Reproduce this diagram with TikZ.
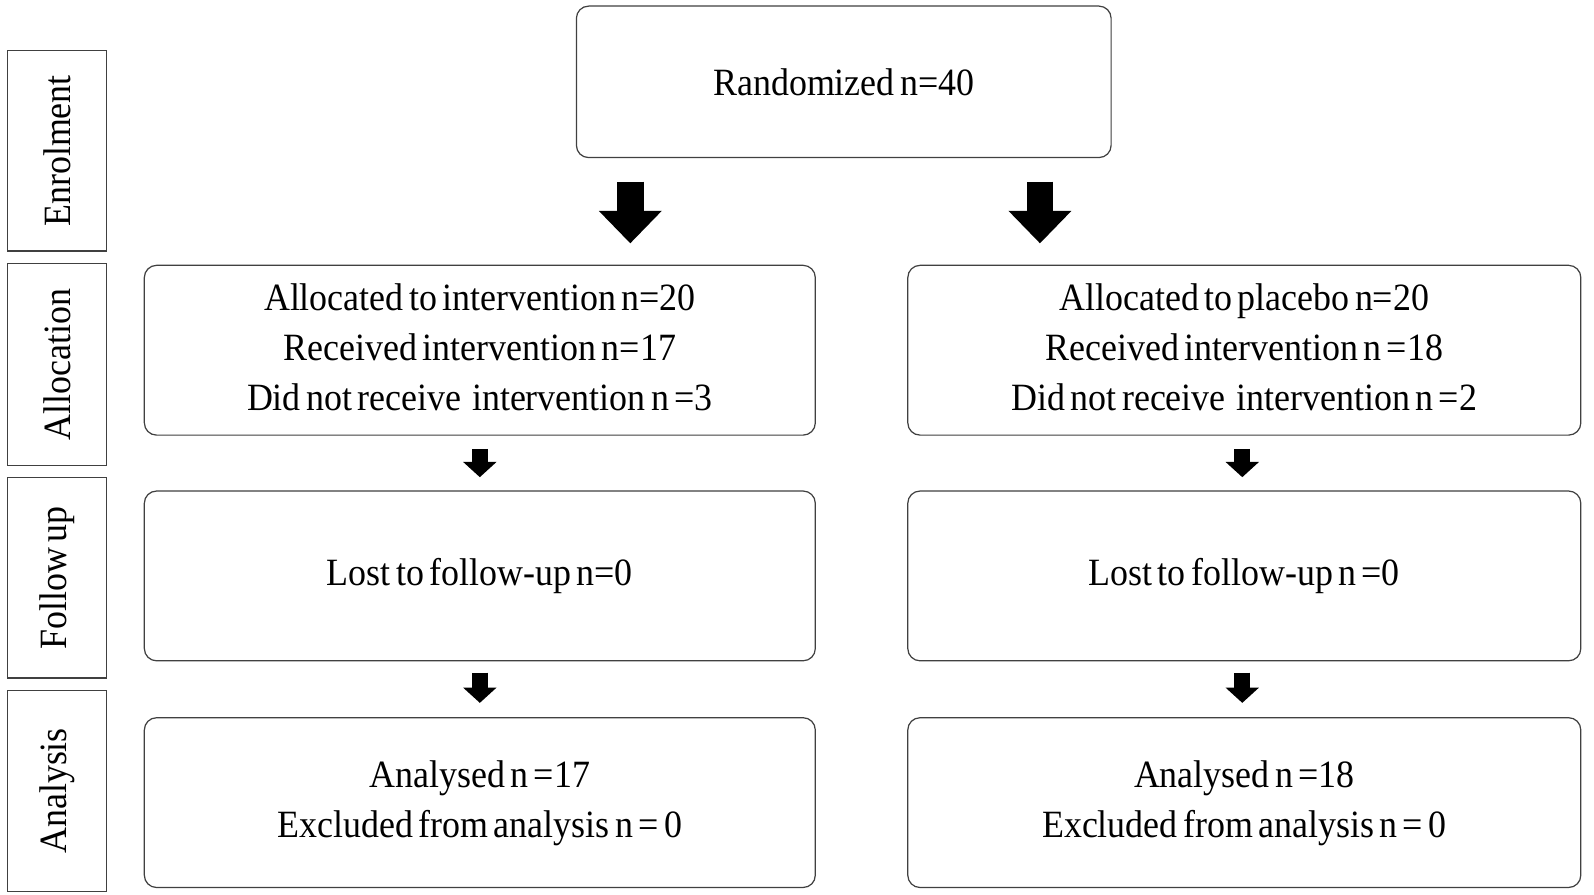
\documentclass[tikz,border=0pt]{standalone}
\usepackage{fontspec}
\setmainfont{Liberation Serif}[FakeStretch=0.93,WordSpace=0.6]
\usetikzlibrary{arrows.meta}
\begin{document}
\begin{tikzpicture}[x=0.5pt,y=-0.5pt,
  every node/.style={font=\fontsize{19}{24.5}\selectfont},
  flowbox/.style={draw=black!75, line width=0.6pt, rounded corners=6pt, align=center, inner sep=0pt},
  sidebox/.style={draw=black!75, line width=0.6pt, inner sep=0pt, minimum width=49pt},
  bigarrow/.style={line width=13pt, -{Triangle[width=30pt,length=16pt]}, black},
  smallarrow/.style={line width=8pt, -{Triangle[width=16pt,length=7.5pt]}, black}]
\useasboundingbox (0,0) rectangle (1568,880);
\fill[white] (0,0) rectangle (1568,880);
% phase labels
\node[sidebox, minimum height=98.5pt] (s1) at (56,148.5) {};
\node[rotate=90] (t1) at (s1.center) {Enrolment};
\node[sidebox, minimum height=99.5pt] (s2) at (56,358.5) {};
\node[rotate=90] (t2) at (s2.center) {Allocation};
\node[sidebox, minimum height=98.5pt] (s3) at (56,568.5) {};
\node[rotate=90] (t3) at (s3.center) {Follow up};
\node[sidebox, minimum height=99pt] (s4) at (56,778) {};
\node[rotate=90] (t4) at (s4.center) {Analysis};
% boxes
\node[flowbox, minimum width=263pt, minimum height=74.5pt] (top) at (830,80.5) {Randomized n=40};
\node[flowbox, minimum width=330pt, minimum height=83.5pt] (la) at (472,344.5)
  {\raisebox{1.2pt}{\begin{tabular}{@{}c@{}}Allocated to intervention n=20\\Received intervention n=17\\Did not receive\ \ intervention n =3\end{tabular}}};
\node[flowbox, minimum width=331pt, minimum height=83.5pt] (ra) at (1224,344.5)
  {\raisebox{1.2pt}{\begin{tabular}{@{}c@{}}Allocated to placebo n=20\\Received intervention n =18\\Did not receive\ \ intervention n =2\end{tabular}}};
\node[flowbox, minimum width=330pt, minimum height=83.5pt] (lf) at (472,566.5) {\raisebox{-1.2pt}{Lost to follow-up n=0}};
\node[flowbox, minimum width=331pt, minimum height=83.5pt] (rf) at (1224,566.5) {\raisebox{-1.2pt}{Lost to follow-up n =0}};
\node[flowbox, minimum width=330pt, minimum height=83.5pt] (ln) at (472,789.5)
  {\raisebox{-1.2pt}{\begin{tabular}{@{}c@{}}Analysed n =17\\Excluded from analysis n = 0\end{tabular}}};
\node[flowbox, minimum width=331pt, minimum height=83.5pt] (rn) at (1224,789.5)
  {\raisebox{-1.2pt}{\begin{tabular}{@{}c@{}}Analysed n =18\\Excluded from analysis n = 0\end{tabular}}};
% connectors
\coordinate (lx) at (620,0);
\coordinate (rx) at (1023,0);
\coordinate (lsx) at (472,0);
\coordinate (rsx) at (1222,0);
\draw[bigarrow, shorten <=11.5pt, shorten >=10.5pt] (top.south -| lx) -- (la.north -| lx);
\draw[bigarrow, shorten <=11.5pt, shorten >=10.5pt] (top.south -| rx) -- (ra.north -| rx);
\draw[smallarrow, shorten <=6.5pt, shorten >=6.5pt] (la.south -| lsx) -- (lf.north -| lsx);
\draw[smallarrow, shorten <=6.5pt, shorten >=6.5pt] (ra.south -| rsx) -- (rf.north -| rsx);
\draw[smallarrow, shorten <=5.5pt, shorten >=7pt] (lf.south -| lsx) -- (ln.north -| lsx);
\draw[smallarrow, shorten <=5.5pt, shorten >=7pt] (rf.south -| rsx) -- (rn.north -| rsx);
\end{tikzpicture}
\end{document}
